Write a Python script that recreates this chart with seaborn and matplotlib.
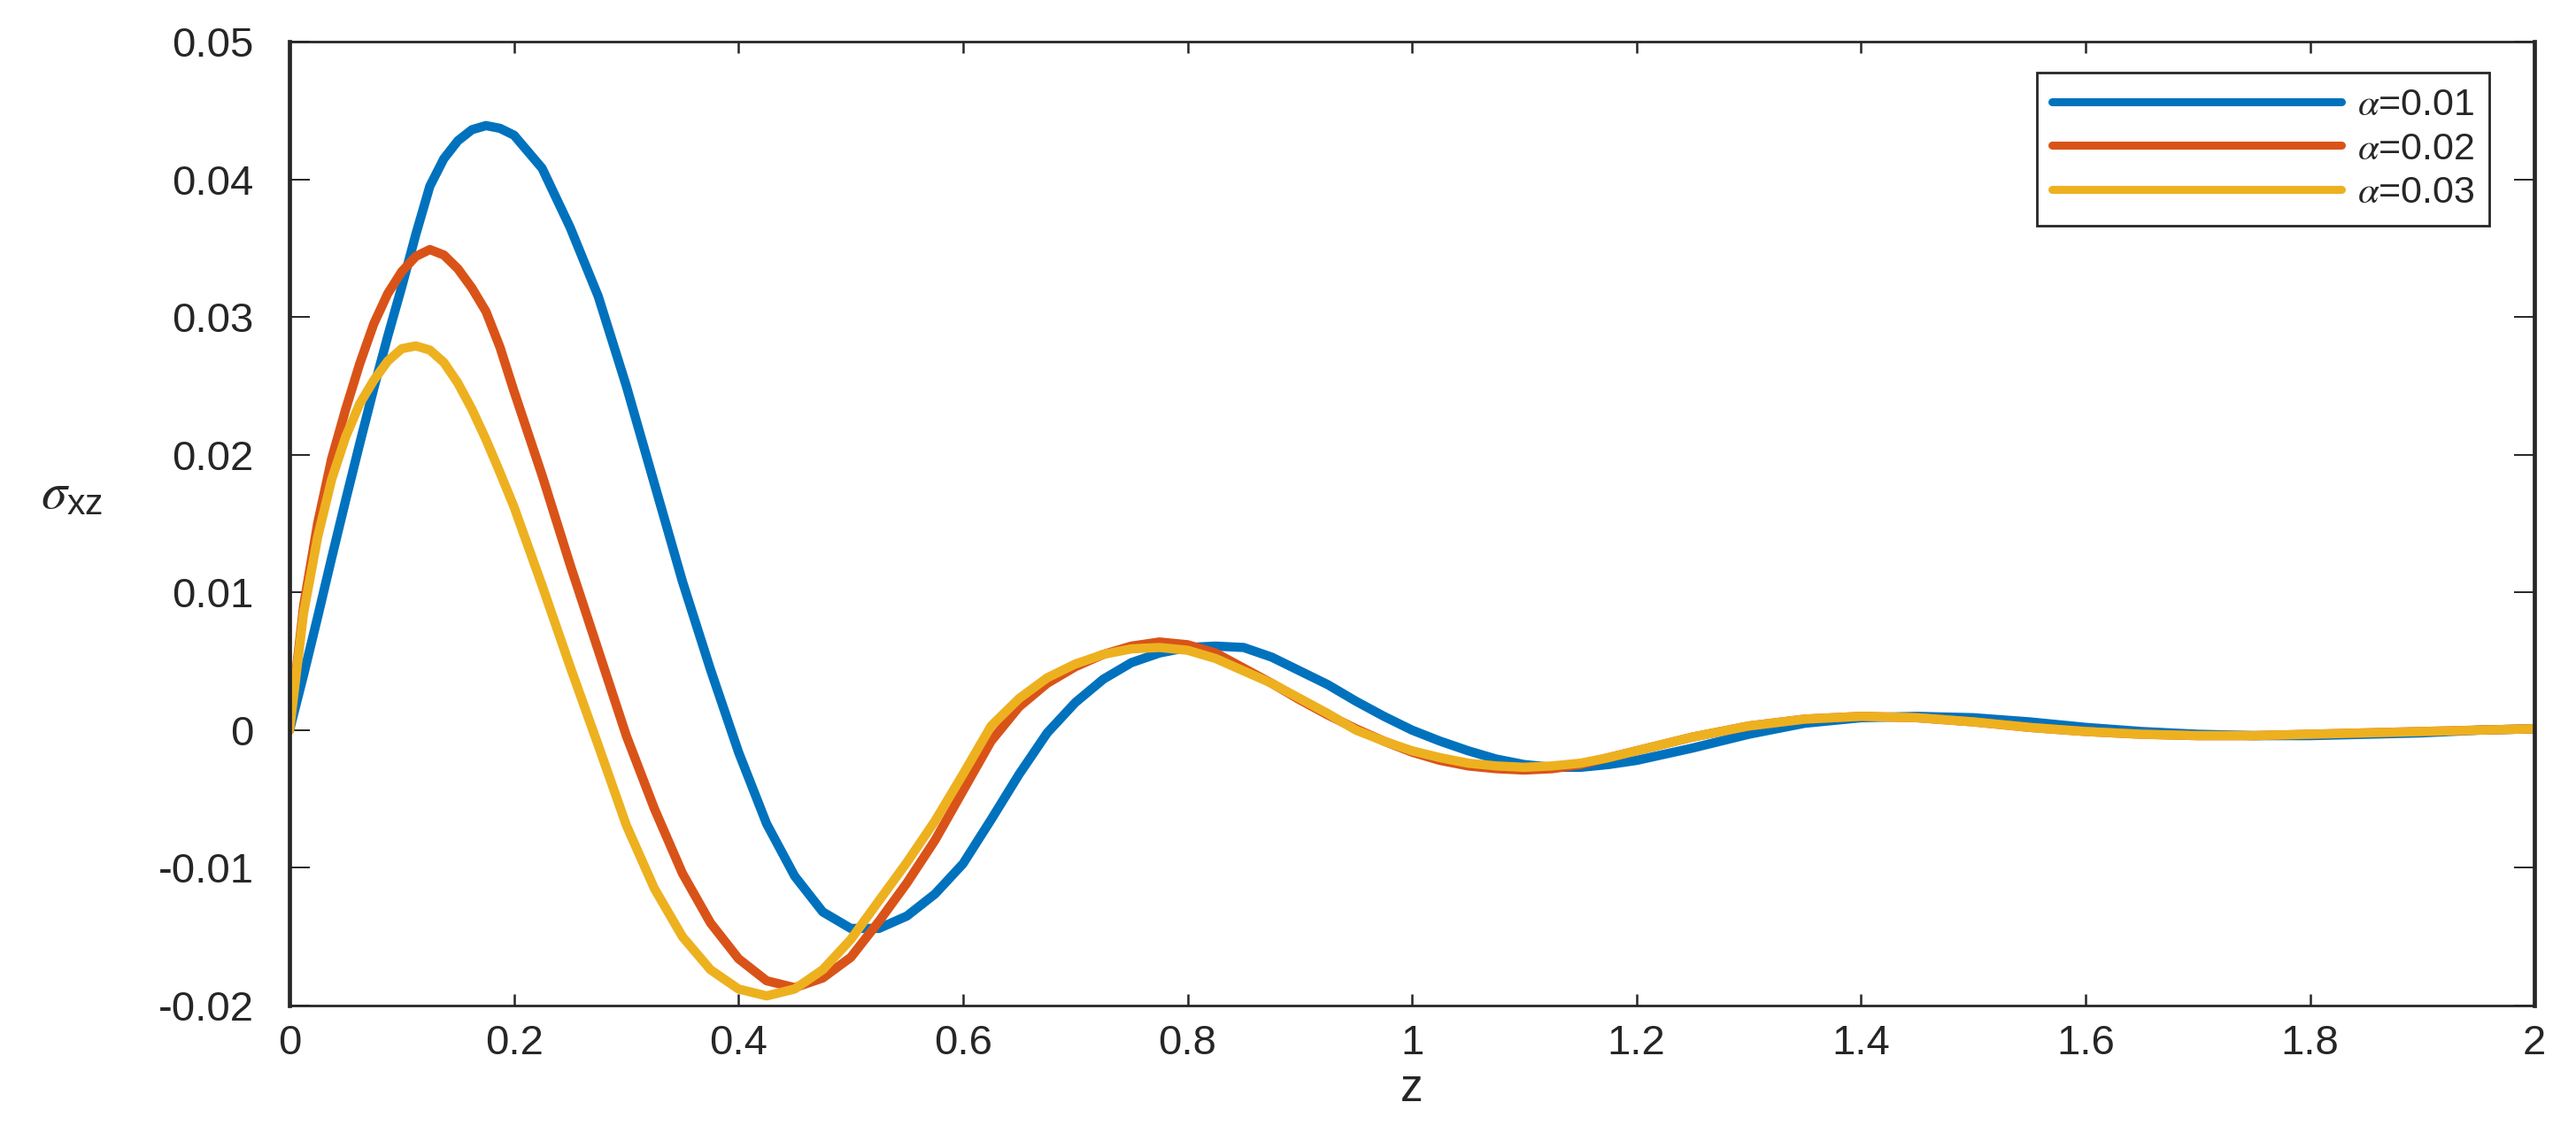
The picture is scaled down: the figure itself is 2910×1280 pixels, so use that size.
"""
Shear stress sigma_xz along z for three alpha values
"""
import numpy as np
import pandas as pd
import matplotlib
matplotlib.use("Agg")
import matplotlib.pyplot as plt
import seaborn as sns

# depth coordinate (finer near the first peak)
z = [0, 0.0125, 0.025, 0.0375, 0.05, 0.0625, 0.075, 0.0875, 0.1, 0.1125, 0.125,
     0.1375, 0.15, 0.1625, 0.175, 0.1875, 0.2, 0.225, 0.25, 0.275,
     0.3, 0.325, 0.35, 0.375, 0.4, 0.425, 0.45, 0.475, 0.5, 0.525, 0.55, 0.575,
     0.6, 0.625, 0.65, 0.675, 0.7, 0.725, 0.75, 0.775, 0.8, 0.825, 0.85, 0.875,
     0.9, 0.925, 0.95, 0.975, 1.0, 1.025, 1.05, 1.075, 1.1, 1.125, 1.15, 1.175,
     1.2, 1.25, 1.3, 1.35, 1.4, 1.45, 1.5, 1.55, 1.6, 1.65, 1.7, 1.75, 1.8,
     1.85, 1.9, 1.95, 2.0]

sigma_a001 = [0, 0.0040, 0.0082, 0.0125, 0.0167, 0.0208, 0.0248, 0.0286, 0.0322,
              0.0360, 0.0395, 0.0415, 0.0428, 0.0436, 0.0439, 0.0437, 0.0432,
              0.0408, 0.0365, 0.0315, 0.0250, 0.0179, 0.0108, 0.0044, -0.0016,
              -0.0068, -0.0106, -0.0132, -0.0144, -0.0144, -0.0135, -0.0119, -0.0097,
              -0.0065, -0.0032, -0.0002, 0.0020, 0.0037, 0.0049, 0.0056, 0.0060,
              0.0061, 0.0060, 0.0053, 0.0043, 0.0033, 0.0021, 0.0010, 0.0,
              -0.0008, -0.0015, -0.0021, -0.0025, -0.0027, -0.0027, -0.0025, -0.0022,
              -0.0013, -0.0003, 0.0005, 0.0009, 0.0010, 0.0009, 0.0006, 0.0002,
              -0.0001, -0.0003, -0.0004, -0.0004, -0.0003, -0.0002, 0.0, 0.0001]

sigma_a002 = [0, 0.0090, 0.0150, 0.0197, 0.0233, 0.0266, 0.0295, 0.0317, 0.0333,
              0.0344, 0.0349, 0.0345, 0.0335, 0.0321, 0.0304, 0.0278, 0.0246,
              0.0185, 0.0120, 0.0058, -0.0004, -0.0057, -0.0104, -0.0140, -0.0166,
              -0.0182, -0.0187, -0.0180, -0.0165, -0.0139, -0.0111, -0.0080, -0.0044,
              -0.0008, 0.0017, 0.0034, 0.0046, 0.0055, 0.0061, 0.0064, 0.0062,
              0.0056, 0.0045, 0.0034, 0.0022, 0.0011, 0.0001, -0.0008, -0.0016,
              -0.0022, -0.0026, -0.0028, -0.0029, -0.0028, -0.0025, -0.0020, -0.0015,
              -0.0005, 0.0003, 0.0008, 0.0010, 0.0009, 0.0006, 0.0002, -0.0001,
              -0.0003, -0.0004, -0.0004, -0.0003, -0.0002, -0.0001, 0.0, 0.0001]

sigma_a003 = [0, 0.0085, 0.0140, 0.0182, 0.0213, 0.0237, 0.0254, 0.0268, 0.0277,
              0.0279, 0.0276, 0.0267, 0.0252, 0.0233, 0.0211, 0.0187, 0.0162,
              0.0105, 0.0046, -0.0011, -0.0069, -0.0115, -0.0150, -0.0174, -0.0188,
              -0.0193, -0.0188, -0.0174, -0.0152, -0.0124, -0.0096, -0.0066, -0.0032,
              0.0003, 0.0023, 0.0038, 0.0048, 0.0055, 0.0059, 0.0060, 0.0058,
              0.0052, 0.0043, 0.0034, 0.0023, 0.0012, 0.0, -0.0008, -0.0015,
              -0.0020, -0.0024, -0.0026, -0.0027, -0.0026, -0.0024, -0.0020, -0.0015,
              -0.0005, 0.0003, 0.0008, 0.0010, 0.0009, 0.0006, 0.0002, -0.0001,
              -0.0003, -0.0004, -0.0004, -0.0003, -0.0002, -0.0001, 0.0, 0.0001]

series_labels = [r"$\alpha$=0.01", r"$\alpha$=0.02", r"$\alpha$=0.03"]
series_colors = ["#0072BD", "#D95319", "#EDB120"]

x_ticks = [0, 0.2, 0.4, 0.6, 0.8, 1.0, 1.2, 1.4, 1.6, 1.8, 2.0]
x_tick_labels = ["0", "0.2", "0.4", "0.6", "0.8", "1", "1.2", "1.4", "1.6", "1.8", "2"]
y_ticks = [-0.02, -0.01, 0, 0.01, 0.02, 0.03, 0.04, 0.05]
y_tick_labels = ["-0.02", "-0.01", "0", "0.01", "0.02", "0.03", "0.04", "0.05"]

sns.set_style("ticks")
plt.rcParams["font.family"] = ["Liberation Sans", "DejaVu Sans"]
plt.rcParams["mathtext.fontset"] = "stix"

# long-form table for seaborn
frames = []
for label, vals in zip(series_labels, [sigma_a001, sigma_a002, sigma_a003]):
    frames.append(pd.DataFrame({"z": z, "sigma": vals, "alpha": label}))
df = pd.concat(frames, ignore_index=True)

fig = plt.figure(figsize=(29.1, 12.8), dpi=100)
ax = fig.add_axes([0.1124, 0.1125, 0.8715, 0.8508])

sns.lineplot(
    data=df, x="z", y="sigma", hue="alpha", hue_order=series_labels,
    palette=series_colors, linewidth=7.5, estimator=None, sort=False,
    legend=False, ax=ax,
)

ax.set_xlim(0, 2)
ax.set_ylim(-0.02, 0.05)
ax.set_xticks(x_ticks)
ax.set_xticklabels(x_tick_labels)
ax.set_yticks(y_ticks)
ax.set_yticklabels(y_tick_labels)

dark = "#262626"
ax.tick_params(axis="x", direction="in", length=9.5, width=1.8, labelsize=34,
               pad=15, top=True, color=dark, labelcolor=dark)
ax.tick_params(axis="y", direction="in", length=16.5, width=1.4, labelsize=34,
               pad=29, right=True, color=dark, labelcolor=dark)
for side in ["left", "right"]:
    ax.spines[side].set_linewidth(3.4)
    ax.spines[side].set_color(dark)
for side in ["top", "bottom"]:
    ax.spines[side].set_linewidth(2.0)
    ax.spines[side].set_color(dark)

ax.set_xlabel("z", fontsize=37, color=dark, labelpad=4)
ax.set_ylabel(r"$\sigma_{\mathregular{xz}}$", fontsize=42, color=dark,
              rotation=0, ha="center", va="center")
ax.yaxis.set_label_coords(-0.097, 0.53)

handles = ax.get_lines()[:3]
leg = ax.legend(
    handles, series_labels, loc="upper right", bbox_to_anchor=(0.98, 0.968),
    borderaxespad=0, fontsize=31, frameon=True, fancybox=False,
    edgecolor=dark, handlelength=7.6, handletextpad=0.4, borderpad=0.4,
    labelspacing=0.22,
)
leg.get_frame().set_linewidth(2.0)
leg.get_frame().set_alpha(1)
for h in leg.get_lines():
    h.set_linewidth(6.5)

fig.savefig("out.png", dpi=100)
